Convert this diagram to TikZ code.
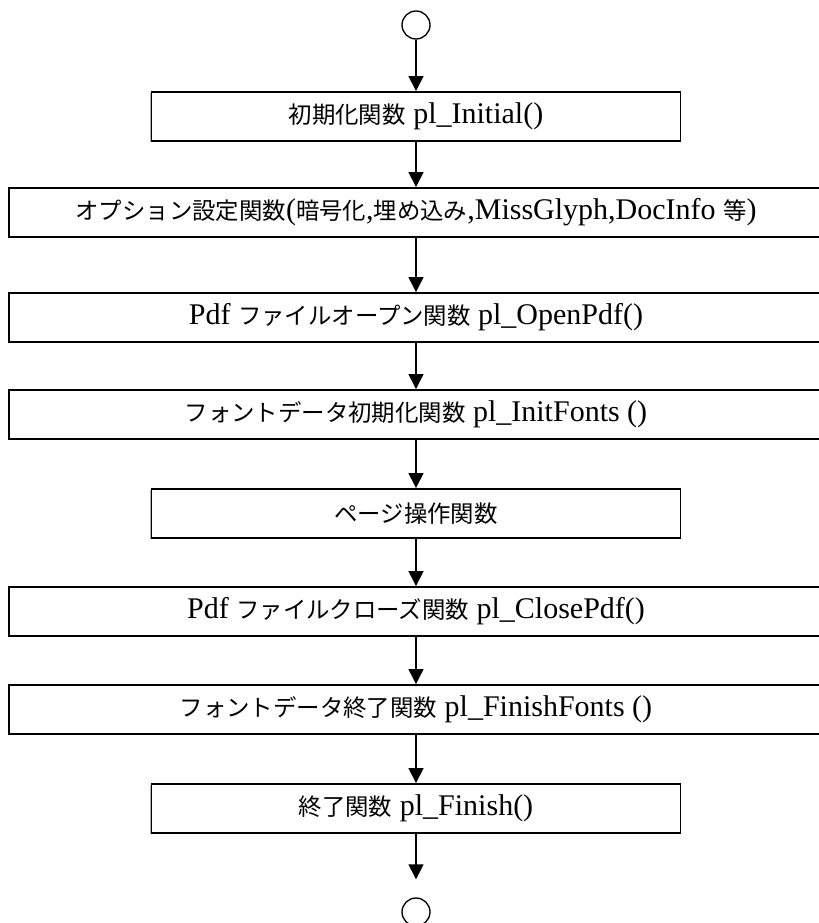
\documentclass[tikz,border=0pt]{standalone}
\usepackage{fontspec}
\setmainfont{Liberation Serif}
\newfontfamily\J[Scale=0.78]{Noto Sans CJK JP}
\usetikzlibrary{arrows.meta,shadows}
\begin{document}
\begin{tikzpicture}[x=0.75pt,y=-0.75pt,
  stepbox/.style={draw,line width=1.4pt,fill=white,inner sep=0pt,
    minimum height=36.75pt,
    font=\fontsize{22.5}{27}\selectfont,
    drop shadow={shadow xshift=-0.8pt,shadow yshift=-1.1pt,fill=gray!60,opacity=1}},
  wide/.style={stepbox,minimum width=610.5pt},
  narrow/.style={stepbox,minimum width=396.75pt},
  term/.style={draw,circle,line width=1pt,minimum size=21pt,inner sep=0pt},
  arr/.style={line width=1pt,-{Triangle[width=11.25pt,length=11.25pt]}}]
\useasboundingbox (0,0) rectangle (818,923);
\node[term] (start) at (416,25) {};
\node[narrow] (b1) at (416,116.5) {{\J 初期化関数} pl\_Initial()};
\node[wide] (b2) at (416,212.5) {{\J オプション設定関数}({\J 暗号化},{\J 埋め込み},MissGlyph,DocInfo {\J 等})};
\node[wide] (b3) at (416,317.5) {Pdf {\J ファイルオープン関数} pl\_OpenPdf()};
\node[wide] (b4) at (416,414.5) {{\J フォントデータ初期化関数} pl\_InitFonts ()};
\node[narrow] (b5) at (416,513.5) {{\J ページ操作関数}};
\node[wide] (b6) at (416,611.5) {Pdf {\J ファイルクローズ関数} pl\_ClosePdf()};
\node[wide] (b7) at (416,709.5) {{\J フォントデータ終了関数} pl\_FinishFonts ()};
\node[narrow] (b8) at (416,808.5) {{\J 終了関数} pl\_Finish()};
\node[term] (end) at (416,912) {};
\draw[arr] (start) -- (b1);
\draw[arr] (b1) -- (b2);
\draw[arr] (b2) -- (b3);
\draw[arr] (b3) -- (b4);
\draw[arr] (b4) -- (b5);
\draw[arr] (b5) -- (b6);
\draw[arr] (b6) -- (b7);
\draw[arr] (b7) -- (b8);
\draw[arr] (b8) -- ([yshift=13.5pt]end.north);
\end{tikzpicture}
\end{document}
